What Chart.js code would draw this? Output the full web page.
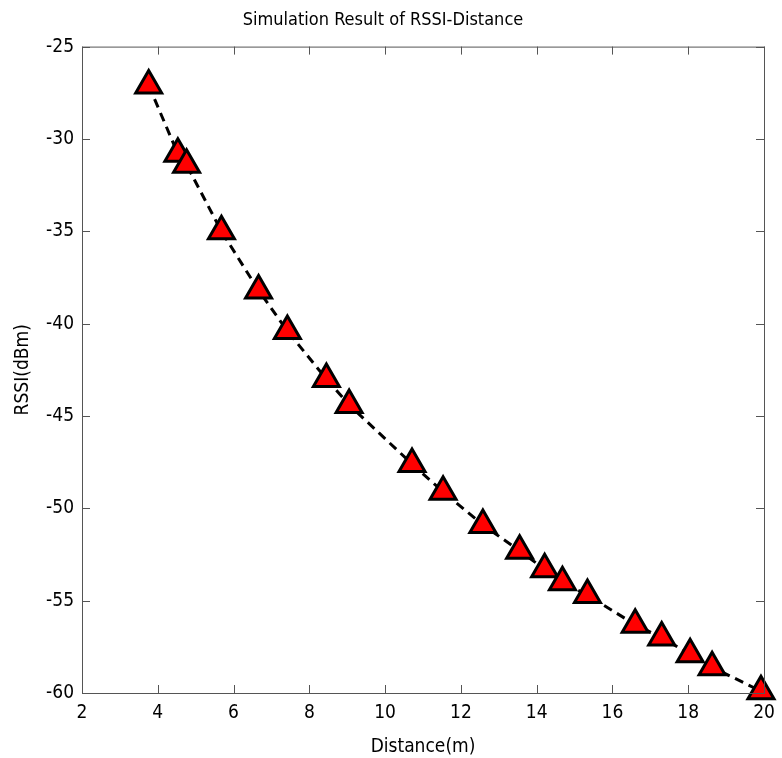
<!DOCTYPE html>
<html>
<head>
<meta charset="utf-8">
<script src="https://cdn.jsdelivr.net/npm/chart.js@4.4.1/dist/chart.umd.min.js"></script>
<style>
  html, body { margin: 0; padding: 0; background: #fff; }
  #wrap { width: 782px; height: 758px; }
</style>
</head>
<body>
<div id="wrap"><canvas id="rssiChart" width="782" height="758"></canvas></div>
<script>
// distance (m) and simulated RSSI (dBm)
const distance = [3.76, 4.53, 4.76, 5.68, 6.66, 7.42, 8.45, 9.05, 10.71, 11.53,
                  12.58, 13.55, 14.21, 14.68, 15.34, 16.6, 17.3, 18.05, 18.63, 19.92];
const rssi = [-27.1, -30.8, -31.4, -35.0, -38.2, -40.4, -43.0, -44.4, -47.6, -49.1,
              -50.9, -52.3, -53.3, -54.0, -54.7, -56.3, -57.0, -57.9, -58.6, -59.9];

const xTicks = [2, 4, 6, 8, 10, 12, 14, 16, 18, 20];
const yTicks = [-25, -30, -35, -40, -45, -50, -55, -60];

const fontFamily = '"Liberation Sans Narrow", "DejaVu Sans Condensed", "Liberation Sans", Arial, sans-serif';

// matlab style box with ticks pointing inwards
const boxTicks = {
    id: 'boxTicks',
    afterDraw(chart) {
        const ctx = chart.ctx;
        const a = chart.chartArea;
        const xs = chart.scales.x, ys = chart.scales.y;
        ctx.save();
        ctx.strokeStyle = '#555';
        ctx.lineWidth = 1;
        ctx.strokeRect(a.left + 0.5, a.top + 0.5, a.right - a.left, a.bottom - a.top);
        const len = 8;
        xTicks.forEach(function (v) {
            const px = Math.round(xs.getPixelForValue(v)) + 0.5;
            ctx.beginPath();
            ctx.moveTo(px, a.bottom); ctx.lineTo(px, a.bottom - len);
            ctx.moveTo(px, a.top); ctx.lineTo(px, a.top + len);
            ctx.stroke();
        });
        yTicks.forEach(function (v) {
            const py = Math.round(ys.getPixelForValue(v)) + 0.5;
            ctx.beginPath();
            ctx.moveTo(a.left, py); ctx.lineTo(a.left + len, py);
            ctx.moveTo(a.right, py); ctx.lineTo(a.right - len, py);
            ctx.stroke();
        });
        ctx.restore();
    }
};

const data = {
    datasets: [{
        label: 'RSSI',
        data: distance.map(function (d, i) { return { x: d, y: rssi[i] }; }),
        showLine: true,
        borderColor: '#000',
        borderWidth: 3,
        borderDash: [9, 6],
        pointStyle: 'triangle',
        pointRadius: 15,
        pointBackgroundColor: '#ff0000',
        pointBorderColor: '#000',
        pointBorderWidth: 3,
        clip: false
    }]
};

const config = {
    type: 'scatter',
    data: data,
    options: {
        responsive: false,
        animation: false,
        layout: { padding: { left: 0, right: 16, top: 0, bottom: 0 } },
        plugins: {
            legend: { display: false },
            tooltip: { enabled: false },
            title: {
                display: true,
                text: 'Simulation Result of RSSI-Distance',
                color: '#000',
                font: { family: fontFamily, size: 18, weight: 'normal' },
                padding: { top: 10, bottom: 15 }
            }
        },
        scales: {
            x: {
                type: 'linear',
                min: 2,
                max: 20,
                afterFit: function (scale) {
                    scale.height = 65;
                    scale.paddingRight = 0;
                },
                afterBuildTicks: function (scale) {
                    scale.ticks = xTicks.map(function (v) { return { value: v }; });
                },
                grid: { display: false, drawTicks: false },
                border: { display: false },
                ticks: {
                    color: '#000',
                    padding: 9,
                    font: { family: fontFamily, size: 19 }
                },
                title: {
                    display: true,
                    text: 'Distance(m)',
                    color: '#000',
                    padding: { top: 0, bottom: 0 },
                    font: { family: fontFamily, size: 19 }
                }
            },
            y: {
                type: 'linear',
                min: -60,
                max: -25,
                afterFit: function (scale) { scale.width = 82; },
                afterBuildTicks: function (scale) {
                    scale.ticks = yTicks.map(function (v) { return { value: v }; });
                },
                grid: { display: false, drawTicks: false },
                border: { display: false },
                ticks: {
                    color: '#000',
                    padding: 8,
                    font: { family: fontFamily, size: 19 }
                },
                title: {
                    display: true,
                    text: 'RSSI(dBm)',
                    color: '#000',
                    padding: { top: 12, bottom: 0 },
                    font: { family: fontFamily, size: 19 }
                }
            }
        }
    },
    plugins: [boxTicks]
};

const rssiChart = new Chart(document.getElementById('rssiChart'), config);
</script>
</body>
</html>
